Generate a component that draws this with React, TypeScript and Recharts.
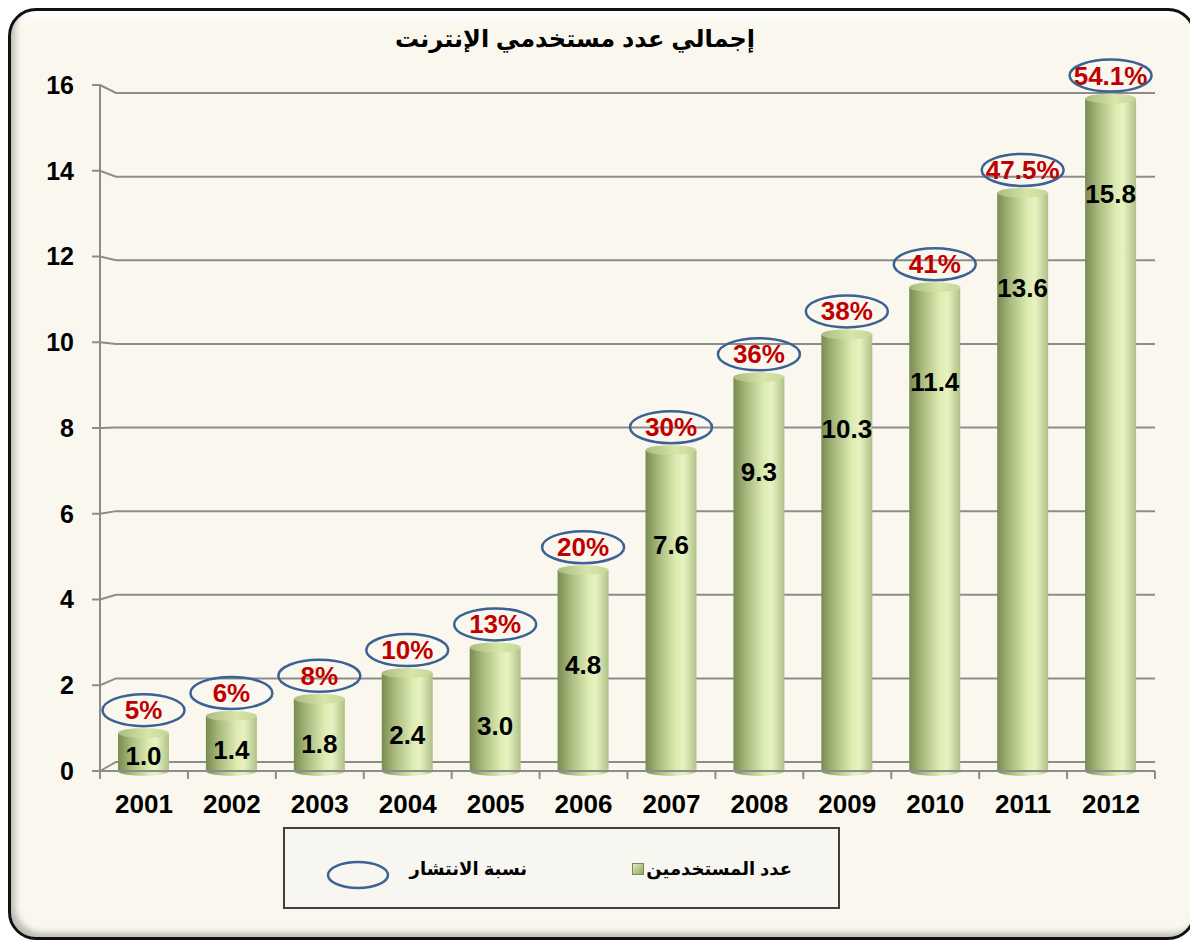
import React from "react";
import { BarChart, Bar, XAxis, YAxis, CartesianGrid, LabelList, Legend } from "recharts";

const years = ["2001", "2002", "2003", "2004", "2005", "2006", "2007", "2008", "2009", "2010", "2011", "2012"];
const users = [1.0, 1.4, 1.8, 2.4, 3.0, 4.8, 7.6, 9.3, 10.3, 11.4, 13.6, 15.8];
const penetration = ["5%", "6%", "8%", "10%", "13%", "20%", "30%", "36%", "38%", "41%", "47.5%", "54.1%"];
const yTicks = [0, 2, 4, 6, 8, 10, 12, 14, 16];

const title = "إجمالي عدد مستخدمي الإنترنت";
const usersName = "عدد المستخدمين";
const penetrationName = "نسبة الانتشار";

const data = years.map((year, i) => ({ year, users: users[i], pct: penetration[i] }));

const FONT = '"Liberation Sans", Arial, "DejaVu Sans", sans-serif';
const W = 1188;
const H = 932;
const margin = { top: 77, right: 41, bottom: 119, left: 0 };
const plotLeft = 92;
const plotRight = W - margin.right;
const plotBottom = 763;
const band = (plotRight - plotLeft) / years.length;
const AXIS = "#8c8c8c";

// back wall of the 3d chart sits a bit inside the front axis
const backY = (y: number) => 754 + (y - plotBottom) * 0.9752;

const gridLine = (props: any) => {
  const { x1, x2, y1, key } = props;
  const by = backY(y1);
  return (
    <polyline
      key={key}
      points={`${x1},${y1} ${x1 + 16},${by} ${x2},${by}`}
      fill="none"
      stroke={AXIS}
      strokeWidth={2}
    />
  );
};

const YearTick = (props: any) => {
  const { x, y, payload, index } = props;
  return (
    <g>
      {index === 0 && <line x1={x - band / 2} x2={x - band / 2} y1={y} y2={y + 8} stroke={AXIS} strokeWidth={2} />}
      <line x1={x + band / 2} x2={x + band / 2} y1={y} y2={y + 8} stroke={AXIS} strokeWidth={2} />
      <text x={x} y={y + 42} textAnchor="middle" fontFamily={FONT} fontWeight="bold" fontSize={26} fill="#000">
        {payload.value}
      </text>
    </g>
  );
};

const Cylinder = (props: any) => {
  const { x, y, width, height } = props;
  if (!height || height <= 0) return null;
  const rx = width / 2;
  const ry = 5;
  return (
    <g>
      <ellipse cx={x + rx} cy={y + height} rx={rx} ry={ry} fill="url(#cylBody)" />
      <rect x={x} y={y + ry} width={width} height={height - ry} fill="url(#cylBody)" />
      <ellipse cx={x + rx} cy={y + ry} rx={rx} ry={ry} fill="url(#cylTop)" />
    </g>
  );
};

const valueLabel = (props: any) => {
  const vb = props.viewBox || props;
  const { x, y, width, height } = vb;
  const cy = y + Math.min(100, height * 0.65);
  return (
    <text x={x + width / 2} y={cy + 9} textAnchor="middle" fontFamily={FONT} fontWeight="bold" fontSize={26} fill="#000">
      {Number(props.value).toFixed(1)}
    </text>
  );
};

const pctLabel = (props: any) => {
  const vb = props.viewBox || props;
  const { x, y, width } = vb;
  const cx = x + width / 2;
  const cy = y - 18;
  return (
    <g>
      <text x={cx} y={cy + 9} textAnchor="middle" fontFamily={FONT} fontWeight="bold" fontSize={26} fill="#C00000">
        {props.value}
      </text>
      <ellipse cx={cx} cy={cy} rx={41} ry={16} fill="none" stroke="#3C6195" strokeWidth={2.5} />
    </g>
  );
};

const LegendBox = () => (
  <div
    style={{
      width: 553,
      height: 78,
      border: "2px solid #3f3f3f",
      background: "#F7F6F0",
      position: "relative",
      fontFamily: FONT,
      fontWeight: "bold",
      fontSize: 18,
      color: "#000",
    }}
  >
    <svg width={70} height={34} style={{ position: "absolute", left: 38, top: 29 }}>
      <ellipse cx={35} cy={17} rx={30} ry={13} fill="none" stroke="#3C6195" strokeWidth={2.5} />
    </svg>
    <div style={{ position: "absolute", right: 553 - 242, top: 29, direction: "rtl" }}>{penetrationName}</div>
    <div style={{ position: "absolute", right: 553 - 507, top: 29, direction: "rtl" }}>{usersName}</div>
    <svg width={12} height={12} style={{ position: "absolute", left: 347, top: 34 }}>
      <rect x={0.5} y={0.5} width={11} height={11} fill="url(#legSq)" stroke="#7b8b55" />
      <defs>
        <linearGradient id="legSq" x1="0" y1="0" x2="1" y2="1">
          <stop offset="0" stopColor="#e4f0bc" />
          <stop offset="1" stopColor="#8fa366" />
        </linearGradient>
      </defs>
    </svg>
  </div>
);

export default function App() {
  return (
    <div
      style={{
        position: "relative",
        width: W,
        height: H,
        boxSizing: "border-box",
        border: "3px solid #111",
        borderRadius: 28,
        background: "linear-gradient(#ffffff 0px, #FAF8EE 16px)",
        boxShadow: "inset 6px -6px 6px -2px rgba(0,0,0,0.25)",
        overflow: "hidden",
      }}
    >
      <div
        style={{
          position: "absolute",
          left: 0,
          top: 14,
          width: 1128,
          textAlign: "center",
          fontFamily: FONT,
          fontWeight: "bold",
          fontSize: 24,
          color: "#000",
          direction: "rtl",
          zIndex: 2,
        }}
      >
        {title}
      </div>
      <div style={{ position: "absolute", left: -3, top: -3 }}>
        <BarChart width={W} height={H} data={data} margin={margin} barSize={51}>
          <defs>
            <linearGradient id="cylBody" x1="0" y1="0" x2="1" y2="0">
              <stop offset="0" stopColor="#7A8B51" />
              <stop offset="0.25" stopColor="#A7B97D" />
              <stop offset="0.6" stopColor="#DDECB2" />
              <stop offset="0.75" stopColor="#E6F3C1" />
              <stop offset="1" stopColor="#B0C187" />
            </linearGradient>
            <linearGradient id="cylTop" x1="0" y1="0" x2="1" y2="0">
              <stop offset="0" stopColor="#AABC82" />
              <stop offset="0.6" stopColor="#D8E6AA" />
              <stop offset="1" stopColor="#C5D598" />
            </linearGradient>
          </defs>
          <CartesianGrid vertical={false} horizontal={gridLine} />
          <XAxis
            dataKey="year"
            axisLine={{ stroke: AXIS, strokeWidth: 2 }}
            tickLine={false}
            tickSize={0}
            tickMargin={0}
            height={50}
            interval={0}
            tick={<YearTick />}
          />
          <YAxis
            domain={[0, 16]}
            ticks={yTicks}
            width={92}
            axisLine={{ stroke: AXIS, strokeWidth: 2 }}
            tickLine={{ stroke: AXIS, strokeWidth: 2 }}
            tickSize={8}
            tickMargin={18}
            tick={{ fontFamily: FONT, fontWeight: "bold", fontSize: 25, fill: "#000", dy: 0 }}
          />
          <Legend
            layout="horizontal"
            verticalAlign="middle"
            align="center"
            wrapperStyle={{ left: 275, top: 819, width: 557 }}
            content={() => <LegendBox />}
          />
          <Bar dataKey="users" name={usersName} shape={<Cylinder />} isAnimationActive={false}>
            <LabelList dataKey="users" content={valueLabel} />
            <LabelList dataKey="pct" content={pctLabel} />
          </Bar>
        </BarChart>
      </div>
    </div>
  );
}
